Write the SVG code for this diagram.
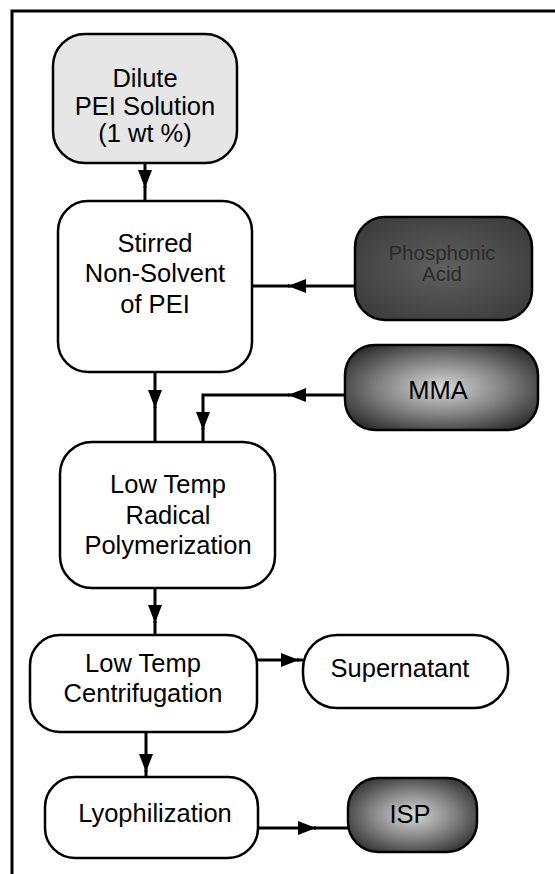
<svg xmlns="http://www.w3.org/2000/svg" width="555" height="874" viewBox="0 0 555 874">
<defs>
<style>
.box{stroke:#000;stroke-width:2.5;fill:#fff}
.t{font-family:"Liberation Sans",Arial,sans-serif;font-size:25.5px;fill:#000;text-anchor:middle}
.w{stroke:#000;stroke-width:3;fill:none}
.dark{fill:#2b2b2b;font-size:20.5px}
</style>
<radialGradient id="glow" cx="50%" cy="50%" r="60%">
<stop offset="0" stop-color="#d8d8d8"/>
<stop offset="0.55" stop-color="#808080"/>
<stop offset="1" stop-color="#303030"/>
</radialGradient>
<radialGradient id="dim" cx="50%" cy="50%" r="65%">
<stop offset="0" stop-color="#606060"/>
<stop offset="1" stop-color="#3a3a3a"/>
</radialGradient>
<marker id="ah" viewBox="0 0 18 14" refX="18" refY="7" markerWidth="18" markerHeight="14" markerUnits="userSpaceOnUse" orient="auto">
<path d="M0,0 L18,7 L0,14 Z" fill="#000"/>
</marker>
</defs>
<rect width="555" height="874" fill="#fff"/>
<g id="frame">
<path d="M12,874 V11 H555" class="w"/>
</g>
<g id="connectors">
<path d="M145,163 V188" class="w" marker-end="url(#ah)"/><path d="M145,186 V201" class="w"/>
<path d="M155,372 V408" class="w" marker-end="url(#ah)"/><path d="M155,406 V442" class="w"/>
<path d="M355,286 H288" class="w" marker-end="url(#ah)"/><path d="M290,286 H252" class="w"/>
<path d="M345,395 H288" class="w" marker-end="url(#ah)"/><path d="M290,395 H203 V430" class="w" marker-end="url(#ah)"/><path d="M203,428 V442" class="w"/>
<path d="M155,588 V623" class="w" marker-end="url(#ah)"/><path d="M155,621 V635" class="w"/>
<path d="M257,660 H299" class="w" marker-end="url(#ah)"/><path d="M297,660 H303" class="w"/>
<path d="M146,732 V772" class="w" marker-end="url(#ah)"/><path d="M146,770 V777" class="w"/>
<path d="M258,828 H316" class="w" marker-end="url(#ah)"/><path d="M314,828 H348" class="w"/>
</g>
<g id="dilute">
<rect class="box" x="53" y="34" width="184" height="129" rx="32" fill="#e4e4e4" style="fill:#e6e6e6"/>
<text class="t" x="145" y="87">Dilute</text>
<text class="t" x="145" y="115">PEI Solution</text>
<text class="t" x="145" y="142">(1 wt %)</text>
</g>
<g id="stirred">
<rect class="box" x="58" y="201" width="194" height="171" rx="30"/>
<text class="t" x="155" y="252">Stirred</text>
<text class="t" x="155" y="282">Non-Solvent</text>
<text class="t" x="155" y="313">of PEI</text>
</g>
<g id="phosphonic">
<rect class="box" x="355" y="217" width="177" height="103" rx="30" style="fill:url(#dim)"/>
<text class="t dark" x="442" y="260">Phosphonic</text>
<text class="t dark" x="442" y="281">Acid</text>
</g>
<g id="mma">
<rect class="box" x="345" y="345" width="193" height="85" rx="30" style="fill:url(#glow)"/>
<text class="t" x="438" y="399">MMA</text>
</g>
<g id="polymerization">
<rect class="box" x="60" y="442" width="215" height="146" rx="32"/>
<text class="t" x="168" y="493">Low Temp</text>
<text class="t" x="168" y="524">Radical</text>
<text class="t" x="168" y="554">Polymerization</text>
</g>
<g id="centrifugation">
<rect class="box" x="30" y="635" width="227" height="97" rx="30"/>
<text class="t" x="143" y="672">Low Temp</text>
<text class="t" x="143" y="702">Centrifugation</text>
</g>
<g id="supernatant">
<rect class="box" x="303" y="635" width="205" height="73" rx="34"/>
<text class="t" x="400" y="677">Supernatant</text>
</g>
<g id="lyophilization">
<rect class="box" x="45" y="777" width="213" height="81" rx="30"/>
<text class="t" x="155" y="822">Lyophilization</text>
</g>
<g id="isp">
<rect class="box" x="348" y="778" width="129" height="74" rx="30" style="fill:url(#glow)"/>
<text class="t" x="410" y="823">ISP</text>
</g>
</svg>
